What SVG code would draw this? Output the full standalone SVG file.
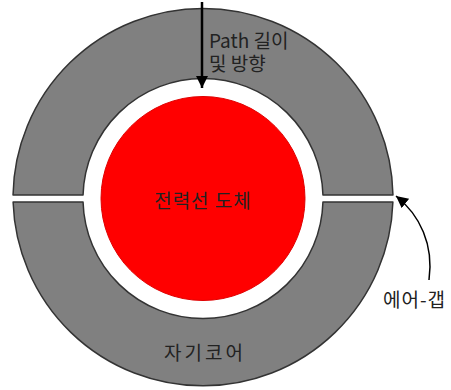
<svg xmlns="http://www.w3.org/2000/svg" width="451" height="390" viewBox="0 0 451 390">
<defs>
<marker id="ah" markerUnits="userSpaceOnUse" markerWidth="14" markerHeight="14" refX="12" refY="6" orient="auto"><path d="M0 0L12 6L0 12Z" fill="#000"/></marker>
</defs>
<style>
.core{fill:#808080;stroke:#333;stroke-width:1.5;stroke-linejoin:round}
.t{font-family:"Noto Sans CJK KR","Liberation Sans",sans-serif;font-size:19px;fill:#222}
.c{fill:none;stroke:#000}
</style>
<rect width="451" height="390" fill="#fff"/>
<g id="core-top"><path class="core" d="M13.03 195A190 190 0 0 1 392.97 195L322.95 195A120 120 0 0 0 83.05 195Z"/></g>
<g id="core-bottom"><path class="core" d="M13.1 202A190 190 0 0 0 392.9 202L322.95 202A120 120 0 0 1 83.05 202Z"/></g>
<g id="conductor"><circle cx="203" cy="198.500" r="102" fill="#f00" stroke="#e00000"/><text class="t" x="203" y="208" text-anchor="middle" letter-spacing="1">전력선 도체</text></g>
<g id="label-core"><text class="t" x="205" y="360" text-anchor="middle" letter-spacing="3">자기코어</text></g>
<g id="label-path"><text class="t" x="209" y="48">Path 길이</text><text class="t" x="209" y="71">및 방향</text></g>
<g id="label-gap"><text class="t" x="383" y="307" letter-spacing="1">에어-갭</text></g>
<g id="connectors">
<path class="c" stroke-width="2.500" d="M202 2L202 88" marker-end="url(#ah)"/>
<path class="c" stroke-width="1.500" d="M429 280C434 245 420 215 396 196" marker-end="url(#ah)"/>
</g>
</svg>
